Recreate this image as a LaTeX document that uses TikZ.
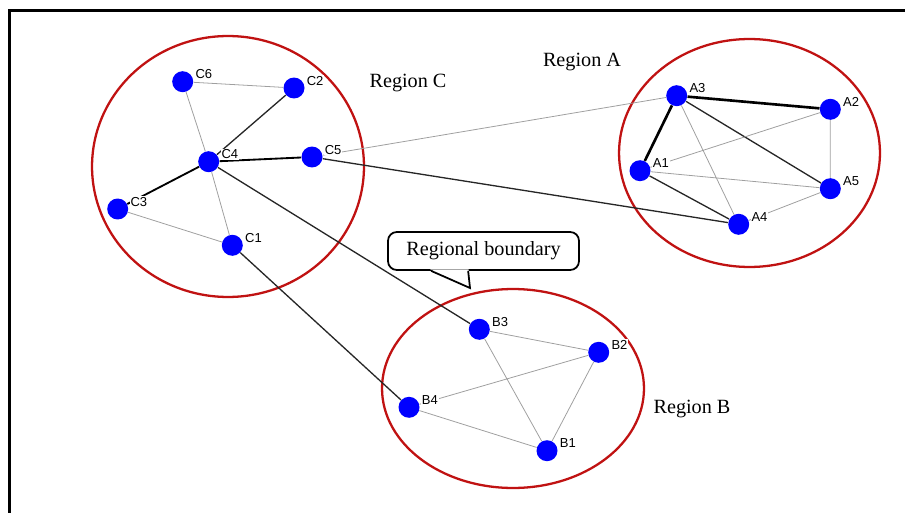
\documentclass[tikz,border=0pt]{standalone}
\usepackage{fontspec}
\setmainfont{Liberation Serif}
\newfontfamily\lblfont{Liberation Sans}
\usetikzlibrary{calc, positioning}
\usetikzlibrary{backgrounds}
\definecolor{regred}{RGB}{192,18,18}

\begin{document}
\begin{tikzpicture}[x=0.02cm, y=-0.02cm,
    vtx/.style={circle, fill=blue, inner sep=0pt, minimum size=0.42cm},
    lbl/.style={font=\lblfont\fontsize{7.4}{8}\selectfont, fill=white, inner sep=0.5pt},
    every label/.style={lbl},
    label distance=0.5pt,
    regtxt/.style={font=\fontsize{11.5}{13}\selectfont, inner sep=0pt},
    region/.style={draw=regred, line width=1.3pt},
    lnk/.style={draw=gray!75, line width=0.45pt},
    lnkmid/.style={draw=black!85, line width=0.75pt},
    lnkbold/.style={draw=black, line width=1.05pt},
    lnkheavy/.style={draw=black, line width=1.5pt},
    bubble/.style={draw, line width=1pt, rounded corners=5pt, fill=white,
        minimum width=3.82cm, minimum height=0.76cm, font=\fontsize{11.5}{13}\selectfont}]
\useasboundingbox (0,0) rectangle (905,513);

% frame
\draw[line width=1.3pt] (9.5,513) -- (9.5,10.5) -- (905,10.5);

% region C
\node[vtx, label=8:C6] (C6) at (182.7,81.7) {};
\node[vtx, label=8:C2] (C2) at (294,88) {};
\node[vtx, label=8:C4] (C4) at (208.7,161.7) {};
\node[vtx, label=8:C5] (C5) at (312,157) {};
\node[vtx, label=8:C3] (C3) at (117.7,209) {};
\node[vtx, label=8:C1] (C1) at (232.3,245.3) {};

% region A
\node[vtx, label=8:A3] (A3) at (676.7,95.7) {};
\node[vtx, label=8:A2] (A2) at (830.3,109.3) {};
\node[vtx, label=8:A1] (A1) at (640,170.7) {};
\node[vtx, label=8:A5] (A5) at (830.3,188.7) {};
\node[vtx, label=8:A4] (A4) at (738.7,224.3) {};

% region B
\node[vtx, label=8:B3] (B3) at (479.3,329.3) {};
\node[vtx, label=8:B2] (B2) at (598.7,352.3) {};
\node[vtx, label=8:B4] (B4) at (409,407.3) {};
\node[vtx, label=8:B1] (B1) at (547,450.7) {};

\node[regtxt] (regC) at (408,83) {Region C};
\node[regtxt] (regA) at (582,62) {Region A};
\node[regtxt] (regB) at (692,409) {Region B};

\begin{scope}[on background layer]
\draw[region] (228,166.5) ellipse [x radius=2.72cm, y radius=2.61cm];
\draw[region] (749.5,153) ellipse [x radius=2.61cm, y radius=2.28cm];
\draw[region] (513,388.5) ellipse [x radius=2.62cm, y radius=1.99cm];

\draw[lnk] (C6) -- (C2) (C6) -- (C4) (C4) -- (C1) (C3) -- (C1);
\draw[lnkmid] (C4) -- (C2) (C4) -- (B3) (C1) -- (B4) (C5) -- (A4);
\draw[lnkbold] (C4) -- (C3) (C4) -- (C5);
\draw[lnk] (C5) -- (A3);

\draw[lnkheavy] (A1) -- (A3) -- (A2);
\draw[lnkmid] (A3) -- (A5) (A1) -- (A4);
\draw[lnk] (A3) -- (A4) (A1) -- (A2) (A1) -- (A5) (A2) -- (A5) (A5) -- (A4);

\draw[lnk] (B3) -- (B2) (B3) -- (B1) (B2) -- (B4) (B2) -- (B1) (B4) -- (B1);
\end{scope}

% callout
\node[bubble] (bnd) at (483.5,251) {Regional boundary};
\coordinate (tip) at (470,288);
\fill[white] ($(bnd.south west)+(43,-1.5)$) -- (tip) -- ($(bnd.south west)+(81.5,-1.5)$) -- cycle;
\draw[line width=1pt] ($(bnd.south west)+(44,0)$) -- (tip) -- ($(bnd.south west)+(81,0)$);
\end{tikzpicture}
\end{document}
